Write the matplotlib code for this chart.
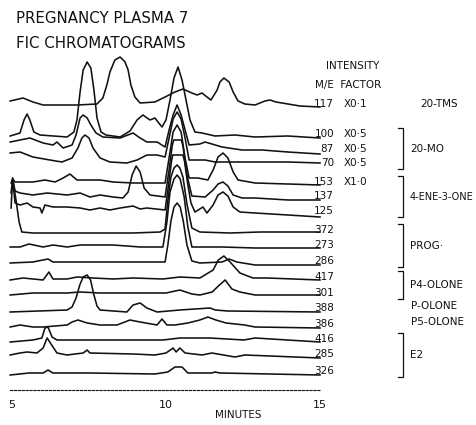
import numpy as np
import matplotlib.pyplot as plt

W, H = 477, 425          # output size in pixels
T0, PX_MIN, X0 = 5.0, 30.8, 12   # 5 min sits at x=12 px, 30.8 px per minute

# ---- chromatogram traces: retention time (min) and height above own baseline
T117 = [4.94, 5.36, 5.68, 6.01, 7.11, 7.76, 7.95, 8.08, 8.18, 8.34, 8.51, 8.67, 8.77, 8.86, 8.99,
        9.16, 9.64, 9.97, 10.29, 10.55, 10.84, 11.01, 11.17, 11.33, 11.46, 11.66, 11.75, 11.88,
        12.05, 12.18, 12.34, 12.56, 12.89, 13.21, 13.38, 13.57, 13.96, 14.35, 15.0]
H117 = [5, 8, 4, 1, 1, 2, 8, 21, 34, 46, 49, 44, 36, 21, 9,
        3, 4, 9, 14, 17, 13, 11, 13, 9, 6, 16, 24, 28,
        24, 14, 5, 2, 1, 5, 6, 4, 2, 0, -1]

T100 = [4.94, 5.26, 5.39, 5.49, 5.58, 5.71, 5.91, 6.79, 7.01, 7.11, 7.21, 7.31, 7.44, 7.56, 7.66,
        7.76, 7.89, 8.05, 8.51, 8.83, 9.06, 9.25, 9.48, 9.64, 9.74, 9.87, 10.0, 10.13, 10.26,
        10.39, 10.52, 10.65, 10.78, 10.94, 11.17, 11.59, 12.24, 12.89, 13.96, 15.0]
H100 = [0, 3, 16, 22, 16, 4, 1, -1, 4, 16, 44, 66, 74, 68, 46,
        18, 4, 1, -1, 5, 16, 21, 16, 18, 14, 9, 16, 36, 58,
        69, 56, 36, 16, 4, 3, 0, 1, -1, 0, -2]

T87 = [4.94, 5.26, 5.58, 6.01, 6.33, 6.46, 6.66, 6.95, 7.08, 7.21, 7.31, 7.44, 7.56, 7.73, 7.95,
       8.51, 8.93, 9.16, 9.38, 9.71, 9.97, 10.10, 10.23, 10.36, 10.49, 10.62, 10.75, 11.10, 11.27,
       11.82, 12.47, 13.12, 13.96, 15.0]
H87 = [9, 11, 13, 8, 6, 9, 3, 6, 16, 33, 36, 33, 26, 18, 14,
       13, 18, 13, 9, 9, 4, 21, 36, 46, 36, 21, 6, 7, 9,
       4, 1, 1, -1, -3]

T70 = [4.94, 5.26, 5.68, 6.23, 6.62, 6.95, 7.14, 7.27, 7.37, 7.50, 7.63, 7.86, 8.18, 8.73, 9.06,
       9.38, 9.71, 9.97, 10.10, 10.23, 10.36, 10.49, 10.62, 10.75, 11.27, 11.59, 12.40, 12.89,
       13.96, 15.0]
H70 = [12, 13, 8, 5, 3, 7, 17, 27, 30, 27, 17, 7, 3, 2, 5,
       10, 10, 8, 27, 46, 53, 46, 27, 5, 5, 3, 3, 3,
       3, 2]

T153 = [4.97, 5.02, 5.10, 5.68, 6.07, 6.40, 6.66, 6.88, 7.11, 7.86, 8.28, 8.93, 9.38, 9.97, 10.10,
        10.23, 10.36, 10.49, 10.62, 10.75, 11.04, 11.36, 11.53, 11.69, 11.85, 12.01, 12.18, 12.34,
        12.89, 13.96, 15.0]
H153 = [1, 5, 2, 2, 4, 2, 6, 10, 4, 4, 2, 1, 1, 1, 26,
        52, 59, 52, 26, 6, 6, 4, 14, 27, 31, 26, 12, 4,
        1, 0, -1]

T137 = [4.97, 5.02, 5.10, 5.26, 5.68, 6.14, 6.79, 7.21, 7.53, 7.86, 8.28, 8.60, 8.77, 8.90, 9.03,
        9.16, 9.29, 9.48, 9.97, 10.10, 10.20, 10.25, 10.50, 10.55, 10.68, 10.84, 11.27, 11.53,
        11.69, 11.85, 12.01, 12.18, 12.47, 12.89, 13.96, 15.0]
H137 = [5, 19, 7, 5, 3, 5, 3, 5, 1, 3, 1, 0, 6, 23, 32,
        26, 10, 3, 1, 28, 52, 58, 58, 52, 23, 2, 1, 8,
        14, 16, 12, 3, 0, 0, -2, -2]

T125 = [4.97, 5.02, 5.10, 5.26, 5.49, 5.68, 5.91, 5.97, 6.07, 6.33, 6.79, 7.21, 7.53, 7.86, 8.18,
        8.51, 8.93, 9.16, 9.38, 9.97, 10.06, 10.18, 10.22, 10.55, 10.60, 10.70, 10.81, 10.94,
        11.20, 11.33, 11.53, 11.69, 11.85, 12.01, 12.18, 12.40, 12.89, 13.96, 15.0]
H125 = [5, 34, 10, 8, 10, 6, 5, 0, 8, 6, 6, 5, 3, 5, 3,
        5, 7, 4, 5, 3, 23, 52, 58, 58, 52, 30, 10, 1,
        6, 0, 8, 18, 21, 17, 6, 1, 0, -2, -4]

T372 = [5.02, 5.13, 5.23, 5.32, 5.68, 6.79, 7.86, 8.93, 9.81, 9.97, 10.06, 10.16, 10.26, 10.36,
        10.45, 10.55, 10.68, 10.84, 11.10, 12.08, 13.05, 14.03, 15.0]
H372 = [54, 32, 10, 0, -1, -1, -1, -1, 0, 3, 32, 55, 64, 67,
        64, 55, 28, 4, 0, -1, 0, 0, 0]

T273 = [4.94, 5.26, 5.55, 6.01, 6.33, 6.79, 7.21, 7.50, 8.28, 8.73, 9.16, 9.90, 10.03, 10.13,
        10.26, 10.36, 10.46, 10.59, 10.71, 10.84, 11.82, 12.89, 13.96, 15.0]
H273 = [0, 0, 3, 0, 2, 0, 2, 2, 2, 1, 0, 0, 25, 55,
        68, 72, 68, 50, 20, 0, 0, -1, -1, -1]

T286 = [4.94, 5.68, 6.17, 6.33, 7.86, 8.93, 9.97, 10.06, 10.16, 10.26, 10.36, 10.46, 10.56, 10.68,
        10.84, 11.10, 11.82, 12.05, 12.30, 12.89, 15.0]
H286 = [0, 1, 4, 1, 1, 1, 1, 18, 42, 56, 60, 56, 42, 18,
        2, 0, 1, 4, 1, -2, -2]

T417 = [4.94, 5.36, 6.01, 6.20, 6.33, 6.79, 7.11, 7.63, 8.28, 8.93, 9.90, 10.45, 11.10, 11.53,
        11.70, 11.88, 12.08, 12.40, 12.82, 13.28, 15.0]
H417 = [-1, 1, -1, 7, 0, 0, 2, 1, 0, 1, 0, 2, 1, 9,
        19, 23, 17, 6, 1, 1, -1]

T301 = [4.94, 5.68, 6.79, 7.21, 7.86, 8.51, 9.38, 10.0, 10.45, 10.84, 11.10, 11.50, 11.70, 11.92,
        12.14, 12.40, 12.89, 15.0]
H301 = [0, 2, 2, 3, 2, 2, 2, 2, 5, 1, 0, 3, 9, 15,
        6, 3, 0, 0]

T388 = [4.94, 6.79, 6.95, 7.08, 7.20, 7.31, 7.44, 7.55, 7.66, 7.76, 7.86, 8.73, 8.93, 9.16, 9.38,
        9.71, 10.45, 11.43, 11.60, 12.0, 15.0]
H388 = [-2, 0, 3, 12, 25, 33, 35, 30, 15, 4, 0, -2, 5, 7, 2,
        -2, 0, 2, 0, -1, -2]

T386 = [4.94, 5.26, 5.68, 6.01, 6.79, 6.95, 7.14, 7.44, 7.86, 8.41, 8.83, 9.16, 9.71, 9.87, 10.03,
        10.29, 10.71, 11.10, 11.36, 11.62, 11.95, 12.55, 12.89, 15.0]
H386 = [-1, 1, -1, -1, 1, 4, 6, 3, 1, 1, 6, 4, 1, 7, 1,
        1, 3, 6, 9, 6, 3, 1, -1, -2]

T416 = [4.94, 5.68, 5.97, 6.07, 6.17, 6.30, 6.46, 7.86, 8.93, 9.90, 10.45, 11.43, 12.53, 12.89, 15.0]
H416 = [-1, 1, 3, 13, 14, 4, 1, 1, 1, 1, 3, 3, 1, 3, -1]

T285 = [4.94, 5.26, 5.49, 5.81, 6.01, 6.14, 6.33, 6.46, 6.79, 7.31, 7.44, 7.53, 8.93, 9.64, 10.0,
        10.23, 10.33, 10.45, 10.62, 11.17, 11.49, 12.24, 12.56, 15.0]
H285 = [1, 3, 4, 3, 8, 18, 9, 3, 1, 3, 6, 3, 2, 1, 3,
        8, 4, 8, 3, 1, 3, -1, 1, -2]

T326 = [4.94, 5.55, 6.01, 6.17, 6.33, 7.50, 9.64, 10.06, 10.29, 10.52, 10.71, 11.49, 11.59, 11.75, 15.0]
H326 = [-2, 0, 0, 3, 0, 0, -1, 1, 6, 6, 0, 0, 1, 0, -2]

MZ = ["117", "100", "87", "70", "153", "137", "125", "372", "273", "286",
      "417", "301", "388", "386", "416", "285", "326"]
FACTORS = ["X0·1", "X0·5", "X0·5", "X0·5", "X1·0"]
TRACES = [(T117, H117), (T100, H100), (T87, H87), (T70, H70), (T153, H153), (T137, H137),
          (T125, H125), (T372, H372), (T273, H273), (T286, H286), (T417, H417), (T301, H301),
          (T388, H388), (T386, H386), (T416, H416), (T285, H285), (T326, H326)]
# compound groups: label, first row, last row (bracketed if more than one)
GROUPS = [("20-TMS", 0, 0), ("20-MO", 1, 3), ("4-ENE-3-ONE", 4, 6), ("PROG·", 7, 9),
          ("P4-OLONE", 10, 11), ("P-OLONE", 12, 12), ("P5-OLONE", 13, 13), ("E2", 14, 16)]
TICKS = [5, 10, 15]

# vertical baseline of each trace, in pixels from the top
BASE = [106, 136, 151, 165, 184, 198, 213, 232, 247, 263, 279, 295, 310, 326, 341, 356, 373]


def tx(x_px):
    return T0 + (x_px - X0) / PX_MIN


fig = plt.figure(figsize=(W / 100, H / 100), dpi=100)
ax = fig.add_axes([0, 0, 1, 1])
ax.set_xlim(tx(0), tx(W))
ax.set_ylim(H, 0)

ink = "#111111"
for (t, h), b in zip(TRACES, BASE):
    ax.plot(t, b - np.asarray(h), color=ink, lw=1.15)

fs = 7.5
ax.text(tx(16), 18, "PREGNANCY PLASMA 7", fontsize=10.8, va="center", color=ink)
ax.text(tx(16), 43, "FIC CHROMATOGRAMS", fontsize=10.8, va="center", color=ink)
ax.text(tx(326), 66, "INTENSITY", fontsize=fs, va="center", color=ink)
ax.text(tx(315), 85, "M/E  FACTOR", fontsize=fs, va="center", color=ink)

for i, (mz, b) in enumerate(zip(MZ, BASE)):
    ax.text(tx(334), b - 2, mz, fontsize=fs, ha="right", va="center", color=ink)
    if i < len(FACTORS):
        ax.text(tx(344), b - 2, FACTORS[i], fontsize=fs, va="center", color=ink)

for name, r0, r1 in GROUPS:
    size = fs if len(name) < 10 else 7.0
    if r1 > r0:
        top, bot = BASE[r0] - 8, BASE[r1] + 4
        ax.plot([tx(398), tx(403), tx(403), tx(398)], [top, top, bot, bot], color=ink, lw=0.9)
        ax.text(tx(410), (top + bot) / 2, name, fontsize=size, va="center", color=ink)
    elif r0 == 0:
        ax.text(tx(420), BASE[r0] - 2, name, fontsize=size, va="center", color=ink)
    else:
        ax.text(tx(411), BASE[r0] - 4, name, fontsize=size, va="center", color=ink)

for s in ["top", "left", "right"]:
    ax.spines[s].set_visible(False)
ax.spines["bottom"].set_position(("data", 390))
ax.spines["bottom"].set_bounds(4.93, 15.0)
ax.spines["bottom"].set_linestyle((0, (2, 1.5)))
ax.spines["bottom"].set_color(ink)
ax.set_yticks([])
ax.set_xticks(TICKS)
ax.set_xticklabels([str(v) for v in TICKS])
ax.tick_params(axis="x", length=0, pad=7, labelsize=8, colors=ink)
ax.set_xlabel("MINUTES", fontsize=fs, labelpad=0, color=ink)

fig.savefig("out.png", dpi=100)
